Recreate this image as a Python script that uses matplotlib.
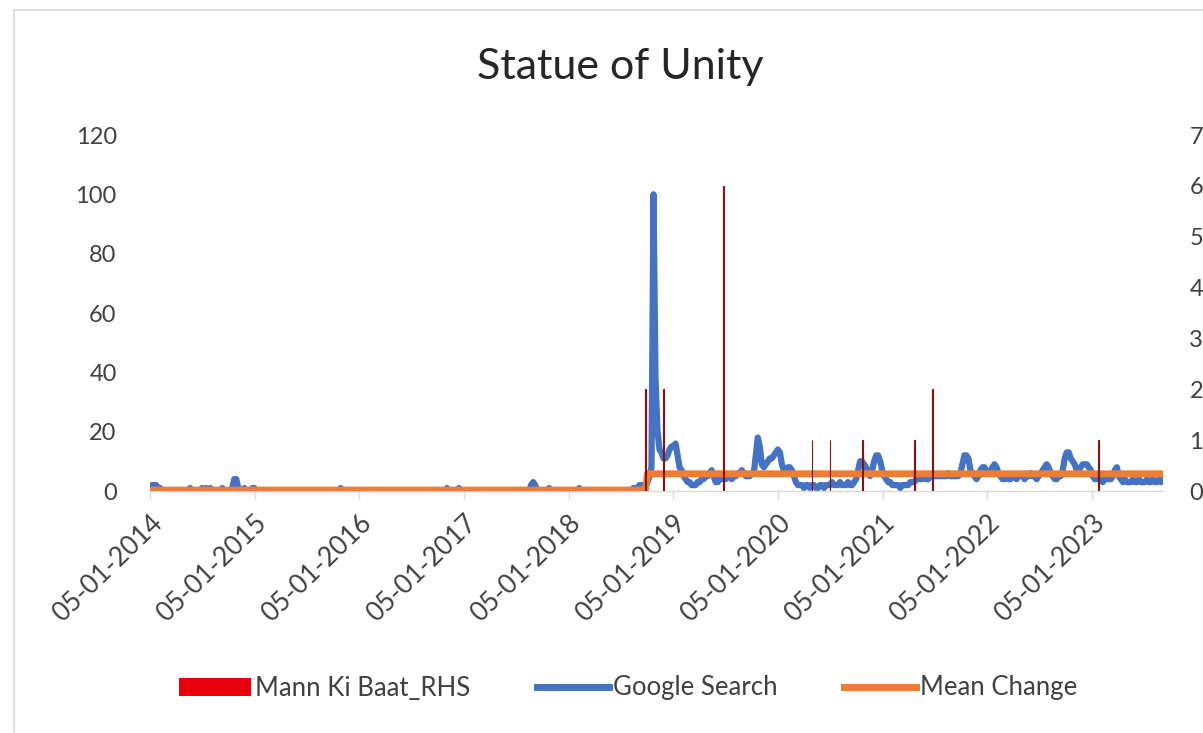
import matplotlib
matplotlib.use("Agg")
import matplotlib.pyplot as plt
import matplotlib.dates as mdates
from matplotlib.patches import Patch, Rectangle
from matplotlib.lines import Line2D
import pandas as pd

plt.rcParams['font.family'] = ['Lato', 'DejaVu Sans']

# weekly Google search index, starting 05-01-2014
start_date = "2014-01-05"
google_search = [
    # 2014
    1, 2, 2, 2, 1, 1, 0, 0, 0, 0, 0, 0, 0, 0, 0, 0, 0, 0, 0, 0, 1, 0, 0, 0, 0, 0,
    1, 0, 1, 0, 1, 0, 0, 0, 0, 0, 1, 0, 0, 0, 0, 1, 4, 4, 1, 0, 0, 1, 0, 0, 0, 1,
    # 2015
    1, 0, 0, 0, 0, 0, 0, 0, 0, 0, 0, 0, 0, 0, 0, 0, 0, 0, 0, 0, 0, 0, 0, 0, 0, 0,
    0, 0, 0, 0, 0, 0, 0, 0, 0, 0, 0, 0, 0, 0, 0, 0, 0, 1, 0, 0, 0, 0, 0, 0, 0, 0,
    # 2016
    0, 0, 0, 0, 0, 0, 0, 0, 0, 0, 0, 0, 0, 0, 0, 0, 0, 0, 0, 0, 0, 0, 0, 0, 0, 0,
    0, 0, 0, 0, 0, 0, 0, 0, 0, 0, 0, 0, 0, 0, 0, 0, 0, 0, 1, 0, 0, 0, 0, 0, 1, 0,
    # 2017
    0, 0, 0, 0, 0, 0, 0, 0, 0, 0, 0, 0, 0, 0, 0, 0, 0, 0, 0, 0, 0, 0, 0, 0, 0, 0,
    0, 0, 0, 0, 0, 0, 0, 0, 2, 3, 2, 0, 0, 0, 0, 0, 0, 1, 0, 0, 0, 0, 0, 0, 0, 0,
    # 2018
    0, 0, 0, 0, 0, 0, 1, 0, 0, 0, 0, 0, 0, 0, 0, 0, 0, 0, 0, 0, 0, 0, 0, 0, 0, 0,
    0, 0, 0, 0, 0, 0, 0, 1, 1, 1, 2, 2, 2, 2, 3, 5, 8, 100, 38, 20, 14, 13, 11, 11, 12, 14,
    # 2019
    15, 15, 16, 12, 8, 7, 5, 4, 3, 3, 2, 2, 2, 3, 3, 4, 4, 5, 5, 6, 7, 5, 3, 3, 4, 4,
    5, 4, 5, 5, 4, 5, 5, 6, 6, 7, 6, 5, 5, 5, 6, 6, 12, 18, 15, 9, 8, 9, 10, 11, 11, 12,
    # 2020
    13, 14, 13, 9, 7, 7, 8, 8, 7, 5, 3, 2, 2, 2, 1, 2, 2, 1, 2, 2, 1, 1, 2, 2, 1, 2,
    2, 2, 3, 2, 2, 2, 3, 2, 2, 2, 3, 2, 2, 3, 4, 7, 10, 10, 9, 8, 6, 5, 7, 10, 12, 12,
    # 2021
    10, 7, 5, 4, 3, 3, 2, 2, 2, 2, 1, 2, 2, 2, 2, 3, 3, 3, 4, 4, 4, 4, 5, 4, 4, 5,
    5, 5, 5, 5, 5, 5, 5, 5, 6, 5, 5, 5, 5, 5, 6, 9, 12, 12, 11, 7, 6, 5, 4, 5, 7, 8,
    # 2022
    8, 6, 6, 7, 8, 9, 8, 6, 5, 4, 4, 5, 4, 4, 5, 5, 4, 5, 5, 5, 4, 5, 5, 6, 5, 5,
    4, 5, 6, 7, 8, 9, 8, 6, 5, 4, 4, 5, 5, 7, 11, 13, 13, 11, 10, 9, 7, 7, 8, 9, 9, 9,
    # 2023
    8, 7, 5, 4, 4, 4, 4, 3, 4, 4, 4, 4, 5, 7, 8, 5, 4, 3, 4, 3, 3, 3, 4, 3, 3, 4,
    3, 3, 3, 4, 3, 3, 4, 3, 3, 4, 3, 4,
]

# mean level before / after the inauguration
mean_dates = ["2014-01-05", "2018-09-30", "2018-10-07", "2023-09-17"]
mean_values = [0.3, 0.3, 5.8, 5.8]

# Mann Ki Baat mentions (right axis)
mkb_dates = ["2018-09-30", "2018-12-02", "2019-06-30", "2020-05-03", "2020-07-05",
             "2020-10-25", "2021-04-25", "2021-06-27", "2023-01-29"]
mkb_values = [2, 2, 6, 1, 1, 1, 1, 2, 1]

tick_years = list(range(2014, 2024))

dates = pd.date_range(start_date, periods=len(google_search), freq="7D")
mean_d = pd.to_datetime(mean_dates)
mkb_d = pd.to_datetime(mkb_dates)

W, H = 1203, 733
fig = plt.figure(figsize=(W / 100, H / 100), dpi=100)
ax = fig.add_axes([150 / W, 1 - 491 / H, 1013 / W, 356 / H])
ax2 = ax.twinx()

blue = "#4472C4"
orange = "#ED7D31"
grey = "#D9D9D9"

ax.plot(dates, google_search, color=blue, lw=4.5, solid_capstyle="round",
        solid_joinstyle="round", zorder=2)
ax.plot(mean_d, mean_values, color=orange, lw=5.0, zorder=3)
ax2.bar(mkb_d, mkb_values, width=3, color="#E00000", edgecolor="#8B1010", linewidth=0.8)

ax.set_ylim(0, 120)
ax.set_yticks(range(0, 121, 20))
ax2.set_ylim(0, 7)
ax2.set_yticks(range(0, 8))
ax.set_xlim(dates[0], dates[-1])

ticks = pd.to_datetime([f"{y}-01-05" for y in tick_years])
ax.set_xticks(ticks)
ax.xaxis.set_major_formatter(mdates.DateFormatter("%d-%m-%Y"))
for lab in ax.get_xticklabels():
    lab.set_rotation(44)
    lab.set_ha("right")
    lab.set_rotation_mode("anchor")

for a in (ax, ax2):
    for s in a.spines.values():
        s.set_visible(False)
ax.spines["bottom"].set_visible(True)
ax.spines["bottom"].set_color(grey)
ax.spines["bottom"].set_linewidth(1.0)

ax.tick_params(axis="x", colors=grey, length=6, width=1, direction="out",
               labelcolor="#404040", labelsize=19, pad=8)
ax.tick_params(axis="y", length=0, labelcolor="#404040", labelsize=17, pad=24)
ax2.tick_params(axis="y", length=0, labelcolor="#404040", labelsize=17, pad=19)

fig.text(0.516, 1 - 67 / H, "Statue of Unity", ha="center", va="center",
         fontsize=31, color="#262626")

handles = [Patch(facecolor="#E8000B", edgecolor="none"),
           Line2D([], [], color=blue, lw=5),
           Line2D([], [], color=orange, lw=5)]
labels = ["Mann Ki Baat_RHS", "Google Search", "Mean Change"]
fig.legend(handles, labels, loc="center", bbox_to_anchor=(0.522, 1 - 688 / H),
           ncol=3, frameon=False, fontsize=18.5, handlelength=2.8,
           handletextpad=0.15, columnspacing=2.6, labelcolor="#404040")

# chart area border
fig.add_artist(Rectangle((14 / W, -0.05), 1.2, 1 - 10 / H + 0.05, fill=False,
                         edgecolor=grey, lw=1.2, transform=fig.transFigure))

fig.savefig("out.png", dpi=100, facecolor="white")
